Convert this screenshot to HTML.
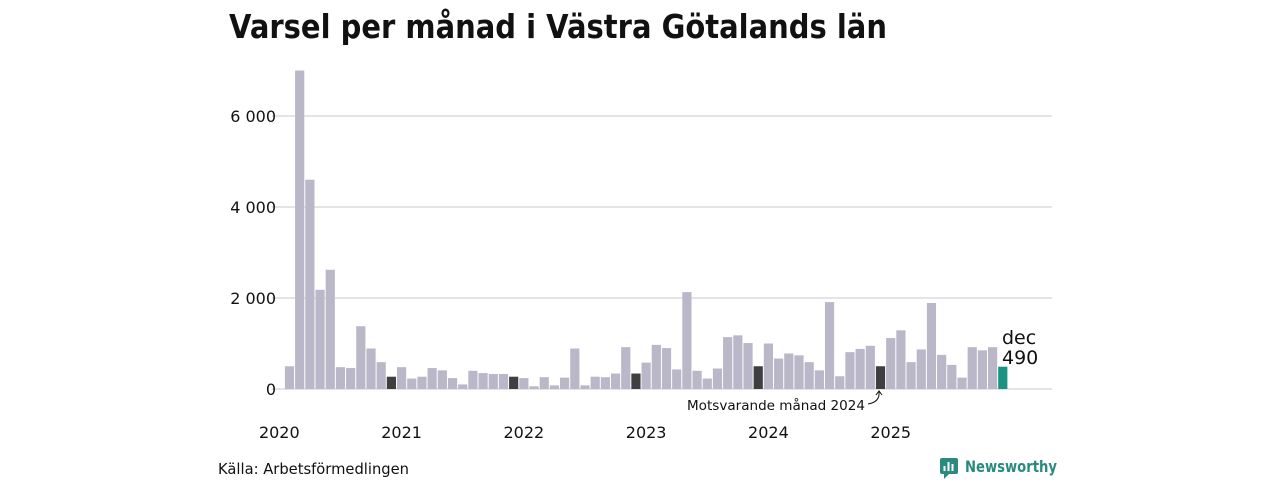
<!DOCTYPE html>
<html><head><meta charset="utf-8"><style>
html,body{margin:0;padding:0;background:#fff;}
body{width:1280px;height:480px;overflow:hidden;font-family:"Liberation Sans","DejaVu Sans",sans-serif;}
</style></head><body>
<svg id="chart" width="1280" height="480" xmlns="http://www.w3.org/2000/svg">
<text x="229" y="38" font-size="33" font-weight="bold" fill="#111" font-family="DejaVu Sans, sans-serif" textLength="658" lengthAdjust="spacingAndGlyphs">Varsel per månad i Västra Götalands län</text>
<g id="grid"></g>
<g id="bars"></g>
<g id="xlabels"></g>
<text x="776" y="410" font-size="13" fill="#111" text-anchor="middle" font-family="DejaVu Sans, sans-serif" textLength="178" lengthAdjust="spacingAndGlyphs">Motsvarande månad 2024</text>
<path d="M868,404 Q880,402 879,392" fill="none" stroke="#111" stroke-width="1"/>
<path d="M876,395 L879,391 L882,395" fill="none" stroke="#111" stroke-width="1"/>
<text x="1002" y="344" font-size="19" fill="#111" font-family="DejaVu Sans, sans-serif">dec</text>
<text x="1002" y="364" font-size="19" fill="#111" font-family="DejaVu Sans, sans-serif">490</text>
<text x="218" y="474" font-size="15" fill="#111" font-family="DejaVu Sans, sans-serif" textLength="191" lengthAdjust="spacingAndGlyphs">Källa: Arbetsförmedlingen</text>
<g>
<rect x="940" y="458" width="18" height="16" rx="2" fill="#2a8a7f"/>
<path d="M944,474 L944,479 L949,474 Z" fill="#2a8a7f"/>
<rect x="943.5" y="466" width="2" height="5" fill="#fff"/><rect x="947.5" y="462" width="2" height="9" fill="#fff"/><rect x="951.5" y="464" width="2" height="7" fill="#fff"/>
<text x="965" y="472" font-size="16" font-weight="bold" fill="#2a8a7f" font-family="DejaVu Sans, sans-serif" textLength="92" lengthAdjust="spacingAndGlyphs">Newsworthy</text>
</g>
</svg>
<script>
const values = [500,7000,4600,2180,2620,480,460,1380,890,590,270,
480,230,270,460,410,240,100,400,350,330,330,270,
240,60,260,80,250,890,80,270,260,340,920,340,
580,970,900,430,2130,400,230,450,1140,1180,1010,500,
1000,670,780,740,590,410,1910,280,810,880,950,500,
1120,1290,590,870,1890,750,530,250,920,850,920,490];
const yTicks = [0,2000,4000,6000];
const yTickLabels = ["0","2 000","4 000","6 000"];
const years = ["2020","2021","2022","2023","2024","2025"];
const startMonth = 1; // Feb 2020
const NS="http://www.w3.org/2000/svg";
const x0=279.3, step=10.19, y0=389, k=45.5/1000;
const xPos = i => x0 + (i+startMonth)*step;
const yPos = v => y0 - v*k;
const grid=document.getElementById('grid'), bars=document.getElementById('bars'), xl=document.getElementById('xlabels');
yTicks.forEach((t,i)=>{
  const l=document.createElementNS(NS,'line');
  l.setAttribute('x1',272);l.setAttribute('x2',1052);l.setAttribute('y1',yPos(t));l.setAttribute('y2',yPos(t));
  l.setAttribute('stroke','#dcdce0');l.setAttribute('stroke-width',1.5);
  
  
  grid.appendChild(l);
  const tx=document.createElementNS(NS,'text');
  tx.setAttribute('x',276);tx.setAttribute('y',yPos(t)+6);tx.setAttribute('text-anchor','end');
  tx.setAttribute('font-size',16);tx.setAttribute('fill','#111');tx.setAttribute('font-family','DejaVu Sans, sans-serif');
  tx.textContent=yTickLabels[i];
  
  
  grid.appendChild(tx);
});
values.forEach((v,i)=>{
  const r=document.createElementNS(NS,'rect');
  const m=(i+startMonth)%12;
  const last=i===values.length-1;
  r.setAttribute('x',xPos(i)-4.6);r.setAttribute('width',9.2);
  r.setAttribute('y',yPos(v));r.setAttribute('height',v*k);
  r.setAttribute('fill', last?'#1a9383':(m===11?'#3f3f42':'#bab8c8'));
  
  
  bars.appendChild(r);
});
years.forEach((y,i)=>{
  const tx=document.createElementNS(NS,'text');
  tx.setAttribute('x',x0+i*12*step);tx.setAttribute('y',438);tx.setAttribute('text-anchor','middle');
  tx.setAttribute('font-size',16);tx.setAttribute('fill','#111');tx.setAttribute('font-family','DejaVu Sans, sans-serif');
  tx.textContent=y;
  
  
  xl.appendChild(tx);
});
</script>
</body></html>
